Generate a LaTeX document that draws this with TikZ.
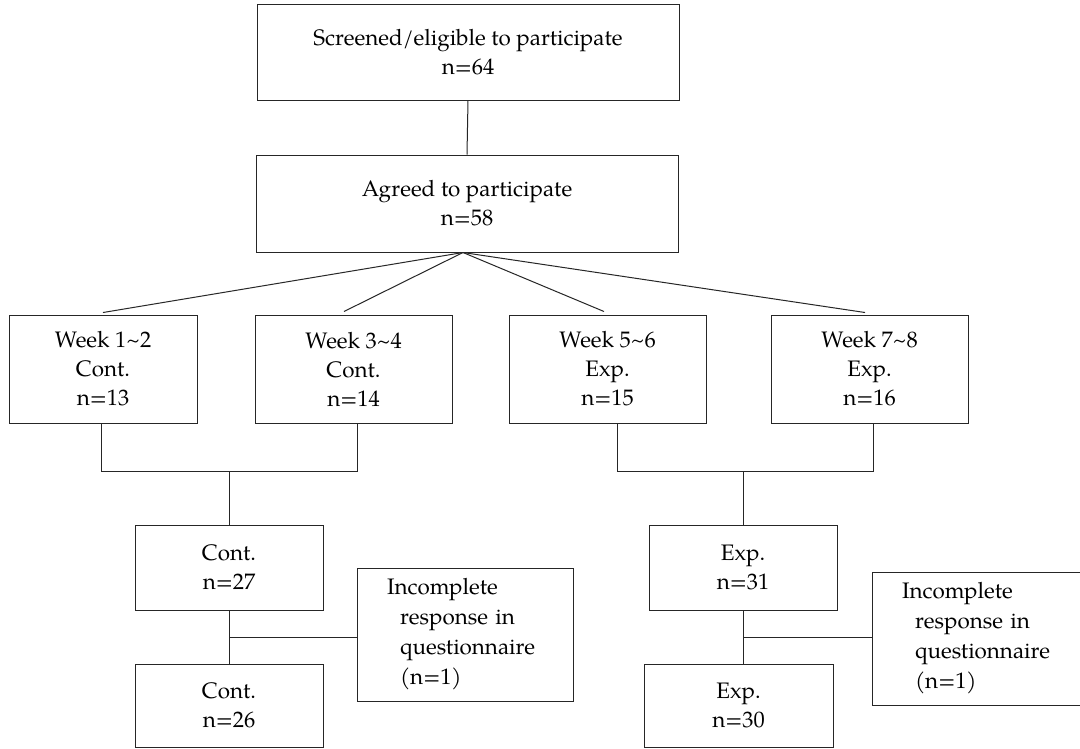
\documentclass[tikz,border=0pt]{standalone}
\usepackage{fontspec}
\setmainfont{TeX Gyre Pagella}
\newcommand\fsmain{\fontsize{22.4}{29}\selectfont}
\newcommand\fsinc{\fontsize{22.4}{30}\selectfont}
\tikzset{
  box/.style={draw=black!85, line width=1pt, inner sep=0pt, align=center, font=\fsmain},
  incbox/.style={draw=black!85, line width=1pt, inner ysep=0pt, inner xsep=30pt, align=left, text width=156pt, font=\fsinc, minimum width=216pt, minimum height=133pt},
  conn/.style={draw=black!85, line width=1pt}
}
\begin{document}
\begin{tikzpicture}[x=1pt, y=-1pt]
\useasboundingbox (0,0) rectangle (1080,748);
\fill[white] (0,0) rectangle (1080,748);
\clip (0,0) rectangle (1080,748);

\node[box, minimum width=422pt, minimum height=96pt] (top) at (468,52) {Screened/eligible to participate\\n=64};
\node[box, minimum width=422pt, minimum height=97pt] (agr) at (467,203.5) {Agreed to participate\\n=58};

\node[box, minimum width=188pt, minimum height=108pt] (w1) at (103,369) {Week 1\textasciitilde2\\Cont.\\n=13};
\node[box, minimum width=197pt, minimum height=108pt] (w2) at (353.5,369) {Week 3\textasciitilde4\\Cont.\\n=14};
\node[box, minimum width=197pt, minimum height=108pt] (w3) at (607.5,369) {Week 5\textasciitilde6\\Exp.\\n=15};
\node[box, minimum width=197pt, minimum height=108pt] (w4) at (869.5,369) {Week 7\textasciitilde8\\Exp.\\n=16};

\node[box, minimum width=188pt, minimum height=85pt] (cont) at (229,567.5) {Cont.\\n=27};
\node[box, minimum width=188pt, minimum height=83pt] (cont26) at (229,705.5) {Cont.\\n=26};
\node[incbox] (inc1) at (465,634.5) {Incomplete\\\hspace*{13pt}response in\\\hspace*{13pt}questionnaire\\\hspace*{13pt}(n=1)};

\node[box, minimum width=188pt, minimum height=85pt] (exp) at (743,567.5) {Exp.\\n=31};
\node[box, minimum width=189pt, minimum height=83pt] (exp30) at (738.5,705.5) {Exp.\\n=30};
\node[incbox] (inc2) at (980,638.5) {Incomplete\\\hspace*{13pt}response in\\\hspace*{13pt}questionnaire\\\hspace*{13pt}(n=1)};

% connectors
\draw[conn] (top.south) -- (agr.north);
\draw[conn] ([xshift=-4pt]agr.south) -- ([yshift=2pt]w1.north);
\draw[conn] ([xshift=-4pt]agr.south) -- ([xshift=-9.5pt,yshift=3pt]w2.north);
\draw[conn] ([xshift=-4pt]agr.south) -- ([xshift=-3.5pt,yshift=3pt]w3.north);
\draw[conn] ([xshift=-4pt]agr.south) -- ([xshift=-4.5pt,yshift=2pt]w4.north);

\draw[conn] ([xshift=-2pt]w1.south) -- ++(0,48) -| ([xshift=3.5pt]w2.south);
\draw[conn] (cont.north) -- ++(0,-54);
\draw[conn] ([xshift=9.5pt]w3.south) -- ++(0,48) -| ([xshift=3.5pt]w4.south);
\draw[conn] (exp.north) -- ++(0,-54);

\draw[conn] (cont.south) -- (cont26.north);
\draw[conn] ([yshift=-2.5pt]inc1.west) -- ([yshift=-2.5pt]inc1.west -| cont.south);
\draw[conn] (exp.south) -- (exp.south |- exp30.north);
\draw[conn] ([yshift=1.5pt]inc2.west) -- ([yshift=1.5pt]inc2.west -| exp.south);
\end{tikzpicture}
\end{document}
